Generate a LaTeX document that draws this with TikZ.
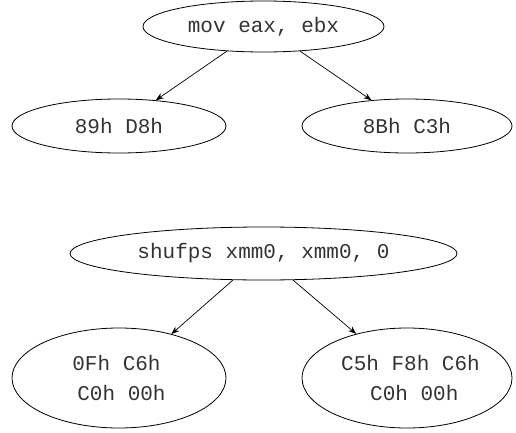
\documentclass[tikz,border=0pt]{standalone}
\usepackage{fontspec}
\setmonofont{Liberation Mono}
\usetikzlibrary{shapes.geometric,arrows.meta}
\definecolor{txt}{HTML}{333333}
\tikzset{
  ell/.style={ellipse, draw=black, line width=0.8pt, inner sep=0pt,
    font=\ttfamily\fontsize{21}{30}\selectfont, text=txt},
  conn/.style={line width=0.7pt, -{Stealth[length=8pt,width=6pt]}}
}
\begin{document}
\begin{tikzpicture}[x=1pt,y=1pt]
\useasboundingbox (0,0) rectangle (516,432);
\node[ell, minimum width=241pt, minimum height=51pt] (mov) at (263.5,405.5) {mov eax, ebx};
\node[ell, minimum width=214pt, minimum height=54pt] (m1) at (119,306) {89h D8h};
\node[ell, minimum width=210pt, minimum height=54pt] (m2) at (407,306) {8Bh C3h};
\node[ell, minimum width=387pt, minimum height=53pt] (shuf) at (263.5,178.5) {shufps xmm0, xmm0, 0};
\node[ell, minimum width=214pt, minimum height=100pt, align=left] (s1) at (119,54) {0Fh C6h\\\hspace*{5pt}C0h 00h};
\node[ell, minimum width=210pt, minimum height=100pt, align=left] (s2) at (407,54) {\hspace*{7pt}C5h F8h C6h\\\hspace*{36pt}C0h 00h};
\draw[conn] (mov.214) -- (m1.35);
\draw[conn] (mov.326) -- (m2.144);
\draw[conn] (shuf.221) -- (s1.40);
\draw[conn] (shuf.318) -- (s2.139);
\end{tikzpicture}
\end{document}
